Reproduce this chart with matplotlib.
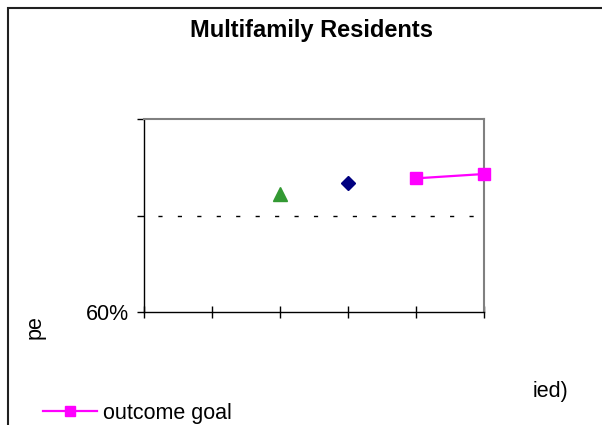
import matplotlib
matplotlib.use("Agg")
import matplotlib.pyplot as plt
from matplotlib.patches import Rectangle
from matplotlib.ticker import FixedLocator

plt.rcParams['font.family'] = ['Liberation Sans', 'DejaVu Sans']

# ---- data ----
title = "Multifamily Residents"
goal_x = [4, 5]
goal_y = [87.7, 88.6]
goal_label = "outcome goal"
tri_x = [2]
tri_y = [84.5]
dia_x = [3]
dia_y = [86.7]
y_ticks = [60, 80, 100]
y_tick_labels = ["60%", "", ""]
x_ticks = [0, 1, 2, 3, 4, 5]
gridline_y = [80]

W, H = 602, 425
fig = plt.figure(figsize=(W / 100, H / 100), dpi=100)

def fx(px):
    return px / W

def fy(py):
    return 1 - py / H

# outer chart frame (cropped)
fig.patches.append(Rectangle((fx(8), fy(440)), fx(640) - fx(8), fy(8) - fy(440),
                             transform=fig.transFigure, fill=False,
                             edgecolor='#202020', linewidth=1.5, clip_on=False))

ax = fig.add_axes([fx(144), fy(312), fx(484) - fx(144), fy(119) - fy(312)])
ax.set_xlim(0, 5)
ax.set_ylim(60, 100)

for g in gridline_y:
    ax.axhline(g, color='black', linewidth=1.0, linestyle=(4, (3, 11)), zorder=1)

ax.plot(tri_x, tri_y, linestyle='none', marker='^', markersize=10,
        color='#339933', clip_on=False, zorder=3)
ax.plot(dia_x, dia_y, linestyle='none', marker='D', markersize=7,
        color='#000080', clip_on=False, zorder=3)
goal_line, = ax.plot(goal_x, goal_y, linestyle='-', linewidth=1.6, marker='s',
                     markersize=9, color='#FF00FF', clip_on=False, zorder=3,
                     label=goal_label)

ax.yaxis.set_major_locator(FixedLocator(y_ticks))
ax.set_yticklabels(y_tick_labels)
ax.xaxis.set_major_locator(FixedLocator(x_ticks))
ax.set_xticklabels([])
ax.tick_params(axis='y', direction='out', length=5, width=1, pad=6,
               labelsize=15.5, colors='black')
ax.tick_params(axis='x', direction='inout', length=9, width=1)

for s in ['top', 'right']:
    ax.spines[s].set_color('#808080')
    ax.spines[s].set_linewidth(1.5)
for s in ['left', 'bottom']:
    ax.spines[s].set_color('black')
    ax.spines[s].set_linewidth(1.0)

fig.text(fx(312), fy(31), title, ha='center', va='center',
         fontsize=17, fontweight='bold')
fig.text(fx(35), fy(327), "pe", rotation=90, ha='center', va='center',
         fontsize=15.5)
fig.text(fx(533), fy(391), "ied)", ha='left', va='center', fontsize=15.5)

fig.legend(handles=[goal_line], labels=[goal_label],
           loc='center left', bbox_to_anchor=(fx(43), fy(413)),
           frameon=False, fontsize=15.5, handlelength=2.5,
           handletextpad=0.3, borderpad=0, borderaxespad=0, markerscale=0.85)

fig.savefig("out.png", dpi=100)
